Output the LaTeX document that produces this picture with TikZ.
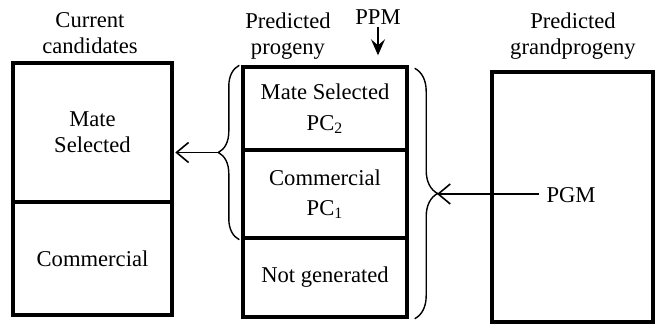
\documentclass[tikz,border=0pt]{standalone}
\usepackage{fontspec}
\setmainfont{Liberation Serif}
\usetikzlibrary{arrows.meta,decorations.pathreplacing}

\begin{document}
\begin{tikzpicture}[x=0.5pt, y=-0.5pt, >={Straight Barb[length=6pt,width=10pt]},
    every node/.style={font=\fontsize{11.3}{13}\selectfont},
    cell/.style={draw, line width=1.7pt, inner sep=0pt, align=center},
    title/.style={inner sep=0pt, align=center, anchor=north},
    brace/.style={decorate, decoration={brace, amplitude=#1}, line width=0.7pt}]
    \useasboundingbox (0,0) rectangle (655,326);
    % current candidates
    \node[cell, minimum width=79.5pt, minimum height=69.5pt] (cms) at (92.5,132.5) {Mate\\Selected};
    \node[cell, minimum width=79.5pt, minimum height=56.5pt] (ccm) at (92.5,258.5) {Commercial};
    % predicted progeny
    \node[cell, minimum width=82pt, minimum height=41.5pt] (pms) at (325,108.5) {Mate Selected\\[2.5pt]PC\textsubscript{2}};
    \node[cell, minimum width=82pt, minimum height=44pt] (pcm) at (325,194) {Commercial\\[2pt]PC\textsubscript{1}};
    \node[cell, minimum width=82pt, minimum height=39.5pt] (png) at (325,277.5) {Not generated};
    % predicted grandprogeny
    \node[cell, minimum width=80.5pt, minimum height=125pt] (gp) at (572.5,197) {};
    \node (pgm) at (571,195) {PGM};
    % titles
    \node[title] (tcur) at (90,12) {Current\\candidates};
    \node[title] (tpro) at (288,12) {Predicted\\progeny};
    \node[title] (tgra) at (573,12) {Predicted\\grandprogeny};
    \node[inner sep=0pt, anchor=base] (ppm) at (378,25) {PPM};
    \draw[-{Stealth[length=8pt,width=7pt,inset=3pt]}, line width=0.8pt, shorten <=1pt, shorten >=5pt]
        (ppm.south) -- (ppm.south |- pms.north);
    % braces
    \draw[brace=10.5pt] ([xshift=-1pt]pcm.south west) -- ([xshift=-1pt]pms.north west);
    \draw[brace=11.5pt] ([xshift=3pt,yshift=-1.5pt]pms.north east) -- ([xshift=3pt]png.south east);
    \coordinate (lbtip) at (220,152.5);
    \coordinate (rbtip) at (437,194);
    \draw[->, line width=0.8pt, shorten >=0.8pt] (lbtip) -- (cms.east |- lbtip);
    \draw[->, line width=0.8pt] (pgm.west |- rbtip) -- (rbtip);
\end{tikzpicture}
\end{document}
